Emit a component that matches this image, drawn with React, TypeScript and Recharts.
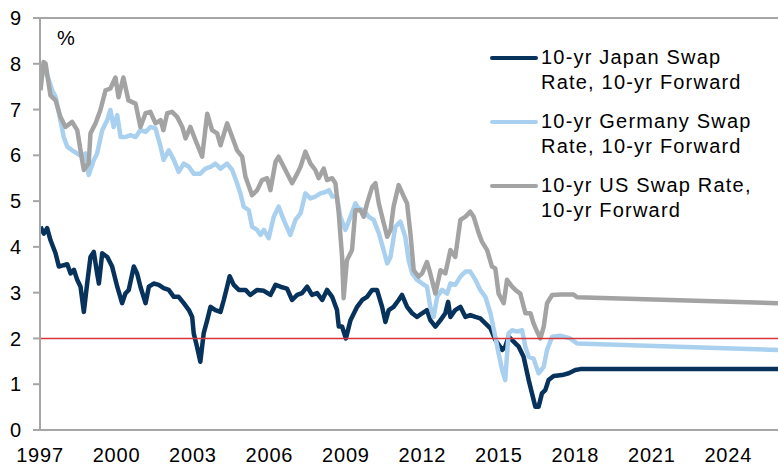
import {
  Legend,
  Line,
  LineChart,
  ReferenceLine,
  XAxis,
  YAxis,
} from 'recharts';

// decimal-year positions and values
const japanYears = [
  1997.02, 1997.15, 1997.28, 1997.41, 1997.61, 1997.74, 1997.93, 1998.07, 1998.2, 1998.33,
  1998.46, 1998.59, 1998.72, 1998.85, 1998.98, 1999.11, 1999.24, 1999.31, 1999.44, 1999.64,
  1999.83, 2000.03, 2000.22, 2000.35, 2000.48, 2000.68, 2000.81, 2000.94, 2001.14, 2001.27,
  2001.46, 2001.66, 2001.85, 2002.05, 2002.25, 2002.44, 2002.64, 2002.84, 2002.97, 2003.03,
  2003.16, 2003.29, 2003.42, 2003.56, 2003.69, 2003.88, 2004.08, 2004.21, 2004.34, 2004.44,
  2004.6, 2004.8, 2005.06, 2005.25, 2005.52, 2005.78, 2006.04, 2006.24, 2006.43, 2006.69,
  2006.89, 2007.09, 2007.28, 2007.48, 2007.67, 2007.87, 2008.07, 2008.26, 2008.46, 2008.65,
  2008.72, 2008.85, 2009.0, 2009.18, 2009.44, 2009.64, 2009.83, 2010.03, 2010.22, 2010.42,
  2010.55, 2010.68, 2010.87, 2011.07, 2011.2, 2011.4, 2011.6, 2011.79, 2011.99, 2012.18,
  2012.31, 2012.51, 2012.71, 2012.9, 2013.01, 2013.1, 2013.29, 2013.49, 2013.69, 2013.88,
  2014.08, 2014.27, 2014.47, 2014.67, 2014.86, 2015.13, 2015.25, 2015.38, 2015.58, 2015.78,
  2015.97, 2016.17, 2016.3, 2016.43, 2016.56, 2016.69, 2016.82, 2016.95, 2017.15, 2017.48,
  2017.74, 2018.0, 2018.2, 2025.95,
];
const japanRates = [
  4.44, 4.29, 4.41, 4.15, 3.86, 3.57, 3.6, 3.62, 3.42, 3.5,
  3.28, 3.13, 2.58, 3.2, 3.78, 3.89, 3.42, 3.2, 3.86, 3.78,
  3.57, 3.13, 2.77, 2.98, 3.06, 3.57, 3.42, 3.13, 2.77, 3.13,
  3.2, 3.17, 3.1, 3.06, 2.91, 2.91, 2.77, 2.62, 2.47, 2.11,
  1.82, 1.49, 2.11, 2.4, 2.69, 2.62, 2.58, 2.84, 3.13, 3.36,
  3.17, 3.06, 3.06, 2.95, 3.06, 3.04, 2.95, 3.17, 3.13, 3.09,
  2.84, 2.95, 2.99, 3.13, 2.95, 2.99, 2.84, 3.06, 2.91, 2.62,
  2.26, 2.26, 2.0, 2.4, 2.69, 2.84, 2.91, 3.06, 3.06, 2.69,
  2.36, 2.62, 2.69, 2.84, 2.95, 2.69, 2.55, 2.47, 2.55, 2.62,
  2.4, 2.26, 2.4, 2.55, 2.8, 2.47, 2.62, 2.69, 2.47, 2.51,
  2.47, 2.44, 2.33, 2.22, 1.97, 1.75, 1.82, 2.04, 1.93, 1.82,
  1.6, 1.09, 0.8, 0.51, 0.51, 0.8, 0.87, 1.09, 1.18, 1.2,
  1.24, 1.31, 1.33, 1.33,
];

const germanyYears = [
  1997.02, 1997.09, 1997.28, 1997.48, 1997.61, 1997.8, 1997.93, 1998.07, 1998.26, 1998.46,
  1998.65, 1998.78, 1998.91, 1999.11, 1999.24, 1999.44, 1999.64, 1999.76, 1999.89, 2000.03,
  2000.16, 2000.35, 2000.55, 2000.75, 2000.94, 2001.14, 2001.33, 2001.53, 2001.73, 2001.85,
  2002.05, 2002.25, 2002.44, 2002.64, 2002.84, 2003.03, 2003.29, 2003.49, 2003.69, 2003.88,
  2004.08, 2004.34, 2004.54, 2004.73, 2004.86, 2004.99, 2005.19, 2005.32, 2005.52, 2005.65,
  2005.78, 2005.97, 2006.17, 2006.36, 2006.56, 2006.82, 2007.02, 2007.22, 2007.41, 2007.61,
  2007.8, 2008.0, 2008.2, 2008.33, 2008.46, 2008.65, 2008.78, 2008.98, 2009.18, 2009.37,
  2009.5, 2009.7, 2009.89, 2010.09, 2010.29, 2010.48, 2010.62, 2010.75, 2010.94, 2011.14,
  2011.33, 2011.46, 2011.6, 2011.79, 2011.99, 2012.18, 2012.31, 2012.44, 2012.58, 2012.77,
  2012.97, 2013.1, 2013.29, 2013.49, 2013.69, 2013.88, 2014.08, 2014.27, 2014.47, 2014.67,
  2014.86, 2014.99, 2015.13, 2015.25, 2015.38, 2015.52, 2015.71, 2015.91, 2016.04, 2016.17,
  2016.36, 2016.56, 2016.76, 2016.89, 2017.09, 2017.41, 2017.8, 2018.07, 2025.95,
];
const germanyRates = [
  7.8, 7.86, 7.75, 7.42, 7.28, 6.77, 6.4, 6.19, 6.11, 6.04,
  5.97, 6.04, 5.57, 5.9, 6.04, 6.55, 6.77, 6.99, 6.62, 6.88,
  6.4, 6.4, 6.44, 6.4, 6.55, 6.51, 6.62, 6.59, 6.19, 5.9,
  6.11, 5.9, 5.64, 5.82, 5.75, 5.6, 5.6, 5.71, 5.75, 5.82,
  5.71, 5.82, 5.68, 5.39, 5.17, 4.88, 4.8, 4.44, 4.37, 4.26,
  4.37, 4.19, 4.66, 4.88, 4.59, 4.26, 4.59, 4.73, 5.17, 5.06,
  5.1, 5.17, 5.2, 5.24, 5.1, 5.1, 4.66, 4.37, 4.66, 4.95,
  4.84, 4.8, 4.66, 4.59, 4.3, 3.93, 3.64, 3.78, 4.44, 4.55,
  4.22, 3.71, 3.42, 3.28, 3.2, 3.13, 2.69, 2.47, 2.91, 3.06,
  2.98, 3.2, 3.17, 3.35, 3.46, 3.46, 3.28, 3.06, 2.91, 2.55,
  2.04, 1.67, 1.31, 1.09, 2.11, 2.18, 2.15, 2.18, 1.82, 1.6,
  1.56, 1.24, 1.38, 1.75, 2.04, 2.06, 2.0, 1.89, 1.75,
];

const usYears = [
  1997.02, 1997.14, 1997.22, 1997.33, 1997.41, 1997.61, 1997.8, 1998.0, 1998.26, 1998.46,
  1998.65, 1998.72, 1998.91, 1998.98, 1999.18, 1999.37, 1999.57, 1999.76, 1999.96, 2000.08,
  2000.27, 2000.47, 2000.75, 2000.94, 2001.14, 2001.33, 2001.53, 2001.73, 2001.84, 2001.99,
  2002.18, 2002.38, 2002.58, 2002.71, 2002.9, 2003.1, 2003.36, 2003.56, 2003.75, 2003.95,
  2004.08, 2004.34, 2004.54, 2004.73, 2004.93, 2005.06, 2005.32, 2005.52, 2005.71, 2005.91,
  2006.04, 2006.24, 2006.36, 2006.56, 2006.76, 2006.89, 2007.09, 2007.22, 2007.41, 2007.61,
  2007.8, 2007.93, 2008.13, 2008.26, 2008.46, 2008.59, 2008.72, 2008.85, 2008.91, 2009.04,
  2009.24, 2009.37, 2009.57, 2009.7, 2009.83, 2010.03, 2010.16, 2010.29, 2010.42, 2010.62,
  2010.75, 2010.87, 2011.07, 2011.27, 2011.4, 2011.53, 2011.66, 2011.85, 2011.99, 2012.18,
  2012.31, 2012.51, 2012.71, 2012.9, 2013.1, 2013.29, 2013.49, 2013.69, 2013.88, 2014.01,
  2014.21, 2014.34, 2014.54, 2014.73, 2014.86, 2014.99, 2015.19, 2015.32, 2015.52, 2015.65,
  2015.84, 2016.04, 2016.24, 2016.36, 2016.5, 2016.63, 2016.76, 2016.89, 2017.09, 2017.41,
  2017.93, 2018.07, 2025.95,
];
const usRates = [
  7.42, 8.04, 8.0, 7.6, 7.31, 7.2, 6.84, 6.62, 6.73, 6.55,
  5.9, 5.68, 5.83, 6.48, 6.7, 6.99, 7.42, 7.46, 7.7, 7.27,
  7.7, 7.2, 7.13, 6.62, 6.92, 6.95, 6.7, 6.77, 6.55, 6.92,
  6.95, 6.84, 6.62, 6.37, 6.62, 6.33, 5.97, 6.91, 6.55, 6.48,
  6.22, 6.7, 6.4, 6.11, 5.97, 5.53, 5.13, 5.24, 5.46, 5.5,
  5.24, 5.86, 5.97, 5.75, 5.53, 5.39, 5.6, 5.75, 6.08, 5.82,
  5.68, 5.5, 5.71, 5.46, 5.5, 5.39, 4.73, 3.78, 2.88, 3.71,
  3.93, 4.8, 4.8, 4.66, 4.95, 5.31, 5.39, 4.95, 4.66, 4.22,
  4.37, 4.88, 5.35, 5.1, 4.95, 4.3, 3.49, 3.35, 3.42, 3.67,
  3.42, 2.98, 3.49, 3.42, 3.93, 3.78, 4.59, 4.66, 4.77, 4.66,
  4.3, 4.11, 3.93, 3.57, 3.53, 2.98, 2.77, 3.28, 3.13, 3.06,
  2.98, 2.55, 2.55, 2.33, 2.15, 2.0, 2.26, 2.77, 2.95, 2.96,
  2.96, 2.9, 2.77,
];

const yearTicks = [1997, 2000, 2003, 2006, 2009, 2012, 2015, 2018, 2021, 2024];
const rateTicks = [0, 1, 2, 3, 4, 5, 6, 7, 8, 9];

const seriesKeys = ['japan', 'germany', 'us'];
const seriesColors = ['#06325c', '#a9d1ef', '#a3a3a3'];
const legendLines = [
  ['10-yr Japan Swap', 'Rate, 10-yr Forward'],
  ['10-yr Germany Swap', 'Rate, 10-yr Forward'],
  ['10-yr US Swap Rate,', '10-yr Forward'],
];

const toPoints = (xs: number[], vs: number[]) => xs.map((x, i) => ({ x, v: vs[i] }));

const FONT = "Arial, 'Liberation Sans', sans-serif";
const AXIS_GREY = '#a6a6a6';
const LINE_W = 4.5;

function LegendBox() {
  return (
    <div style={{ fontFamily: FONT, fontSize: 20, letterSpacing: 1.2, color: '#000' }}>
      {seriesKeys.map((k, i) => (
        <div key={k} style={{ display: 'flex', alignItems: 'flex-start', marginBottom: 14 }}>
          <div
            style={{
              width: 48,
              height: 4.5,
              marginTop: 10.5,
              background: seriesColors[i],
              borderRadius: 2,
            }}
          />
          <div style={{ marginLeft: 3, lineHeight: '25px', whiteSpace: 'nowrap' }}>
            {legendLines[i].map((t) => (
              <div key={t}>{t}</div>
            ))}
          </div>
        </div>
      ))}
    </div>
  );
}

export default function App() {
  const japan = toPoints(japanYears, japanRates);
  const germany = toPoints(germanyYears, germanyRates);
  const us = toPoints(usYears, usRates);

  return (
    <div style={{ position: 'absolute', left: 0, top: 0, width: 778, height: 467, background: '#fff' }}>
      <LineChart width={778} height={467} margin={{ top: 18, right: 0, bottom: 0, left: 0 }}>
        <XAxis
          dataKey="x"
          type="number"
          domain={[1997, 2025.95]}
          allowDataOverflow
          ticks={yearTicks}
          interval={0}
          height={37}
          tickLine={false}
          tickSize={0}
          tickMargin={18}
          axisLine={{ stroke: AXIS_GREY, strokeWidth: 2 }}
          tick={{ fill: '#000', fontSize: 20, fontFamily: FONT, letterSpacing: 0.8 }}
        />
        <YAxis
          type="number"
          domain={[0, 9]}
          ticks={rateTicks}
          interval={0}
          width={40}
          tickSize={7}
          tickMargin={12}
          tickLine={{ stroke: AXIS_GREY, strokeWidth: 2 }}
          axisLine={{ stroke: AXIS_GREY, strokeWidth: 2 }}
          tick={{ fill: '#000', fontSize: 20, fontFamily: FONT }}
        />
        <ReferenceLine y={9} stroke={AXIS_GREY} strokeWidth={2} />
        <Line
          data={japan}
          dataKey="v"
          name="japan"
          stroke={seriesColors[0]}
          strokeWidth={LINE_W}
          dot={false}
          activeDot={false}
          isAnimationActive={false}
          strokeLinejoin="round"
        />
        <Line
          data={germany}
          dataKey="v"
          name="germany"
          stroke={seriesColors[1]}
          strokeWidth={LINE_W}
          dot={false}
          activeDot={false}
          isAnimationActive={false}
          strokeLinejoin="round"
        />
        <Line
          data={us}
          dataKey="v"
          name="us"
          stroke={seriesColors[2]}
          strokeWidth={LINE_W}
          dot={false}
          activeDot={false}
          isAnimationActive={false}
          strokeLinejoin="round"
        />
        <ReferenceLine y={2} stroke="#d6353a" strokeWidth={1.5} />
        <Legend
          layout="vertical"
          align="center"
          verticalAlign="middle"
          content={<LegendBox />}
          wrapperStyle={{ position: 'absolute', left: 490, top: 45, width: 290 }}
        />
      </LineChart>
      <div
        style={{
          position: 'absolute',
          left: 57,
          top: 27,
          fontFamily: FONT,
          fontSize: 20,
          color: '#000',
        }}
      >
        %
      </div>
    </div>
  );
}
